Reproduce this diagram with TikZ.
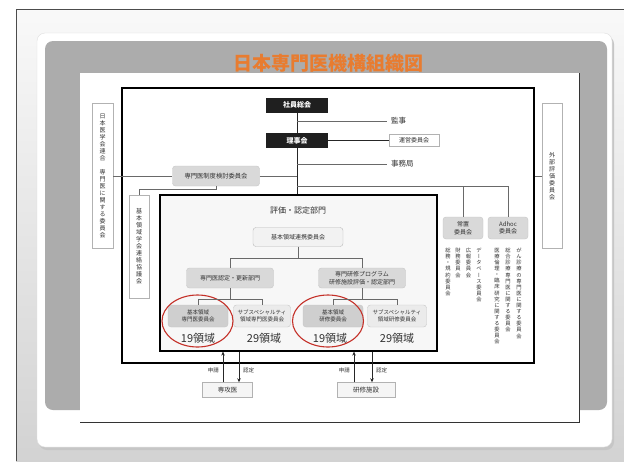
\documentclass[tikz,border=0pt]{standalone}
\usepackage{fontspec}
\setmainfont{Noto Sans CJK JP}
\newfontfamily\jpv[RawFeature=+vert]{Noto Sans CJK JP}
\usetikzlibrary{shapes.geometric,arrows.meta}
\definecolor{ttl}{RGB}{232,124,48}
\definecolor{panel}{RGB}{172,172,172}
\definecolor{ln}{RGB}{105,105,105}
\definecolor{txt}{RGB}{50,50,50}
\definecolor{ovl}{RGB}{196,48,40}
\def\tateA#1{\tateB#1\relax}
\def\tateB#1#2{#1\ifx\relax#2\expandafter\tgob\else\\\expandafter\tateB\fi#2}
\def\tgob#1{}
\tikzset{
  conn/.style={draw=ln, line width=0.6pt},
  darkconn/.style={draw=black!85, line width=1pt},
  blackbox/.style={fill=black!88, text=white, font=\bfseries\fontsize{7}{8}\selectfont, minimum width=62pt, minimum height=15pt, inner sep=0pt},
  gbox/.style={draw=gray!45, fill=gray!30, rounded corners=3pt, align=center, inner sep=0pt, text=txt, font=\fontsize{6}{7.5}\selectfont},
  wbox/.style={draw=gray!60, fill=white, align=center, inner sep=0pt, text=txt},
  vtext/.style={align=center, inner sep=0pt, text=txt, font=\jpv\fontsize{6}{7}\selectfont},
  col/.style={anchor=north, align=center, inner sep=0pt, text=txt, font=\jpv\fontsize{5.3}{6.1}\selectfont},
  lbl/.style={inner sep=0pt, text=txt, font=\fontsize{7.5}{8}\selectfont},
  cnt/.style={inner sep=0pt, text=txt, font=\fontsize{11}{12}\selectfont},
  small/.style={inner sep=0pt, text=txt, font=\fontsize{5.5}{6}\selectfont},
  arr/.style={draw=black!85, line width=1pt, -{Stealth[length=4pt,width=3.5pt]}},
  ring/.style={ellipse, draw=ovl, line width=1.1pt, inner sep=0pt}
}
\begin{document}
\begin{tikzpicture}[x=1pt,y=-1pt]
\useasboundingbox (0,0) rectangle (624,461);
\fill[white] (0,0) rectangle (624,461);
% outer frame
\shade[top color=gray!5, bottom color=gray!35] (16,9) rectangle (624,461);
\draw[black!70, line width=0.8pt] (16,461) -- (16,9) -- (624,9);
% card
\fill[gray!45, rounded corners=8pt] (39,36) rectangle (614,450);
\filldraw[fill=white, draw=gray!25, rounded corners=8pt] (37,33) rectangle (612,447);
\fill[panel, rounded corners=8pt] (45,41) rectangle (607,410);
\fill[white] (80,73) rectangle (579,422);
\draw[black!80, line width=1pt] (579,73) -- (579,422) -- (80,422);
\node[font=\bfseries\fontsize{19}{20}\selectfont, text=ttl] (title) at (328,63) {日本専門医機構組織図};

% frames
\node[draw=black, line width=1.4pt, fill=white, minimum width=412pt, minimum height=275pt, inner sep=0pt] (mainframe) at (328,225.5) {};
\node[draw=black, line width=1.2pt, fill=gray!6, minimum width=277pt, minimum height=156pt, inner sep=0pt] (hyoka) at (298.5,273) {};

% top nodes
\node[blackbox] (shain) at (297,105) {社員総会};
\node[blackbox] (riji) at (297,140.5) {理事会};
\node[lbl, anchor=west, inner sep=4pt] (kanji) at (387,121) {監事};
\node[lbl, anchor=west, inner sep=4pt] (jimu) at (387,164) {事務局};
\node[wbox, minimum width=50pt, minimum height=12pt, font=\fontsize{6}{7}\selectfont] (unei) at (414,140.5) {運営委員会};
\node[gbox, minimum width=87pt, minimum height=20pt, font=\fontsize{6.3}{7.5}\selectfont] (kento) at (216,176) {専門医制度検討委員会};

% side vertical boxes
\node[wbox, vtext, minimum width=21pt, minimum height=145pt] (ren) at (102.5,176) {\tateA{日本医学会連合~専門医に関する委員会}};
\node[wbox, vtext, minimum width=20pt, minimum height=103pt] (kihonkyo) at (139,246.5) {\tateA{基本領域学会連絡協議会}};
\node[wbox, vtext, minimum width=20pt, minimum height=145pt] (gaibu) at (552,176) {\tateA{外部評価委員会}};

% standing / adhoc committees
\node[gbox, minimum width=40pt, minimum height=22pt] (joti) at (463,228) {常置\\委員会};
\node[gbox, minimum width=40pt, minimum height=22pt] (adhoc) at (508,228) {Adhoc\\委員会};
\node[col] (c1) at (448,248) {\tateA{総務・規約委員会}};
\node[col] (c2) at (458,248) {\tateA{財務委員会}};
\node[col] (c3) at (468.5,248) {\tateA{広報委員会}};
\node[col] (c4) at (479,248) {\tateA{データベース委員会}};
\node[col] (c5) at (497,248) {\tateA{医療倫理・臨床研究に関する委員会}};
\node[col] (c6) at (508,248) {\tateA{総合診療専門医に関する委員会}};
\node[col] (c7) at (519,248) {\tateA{がん診療の専門医に関する委員会}};

% inside evaluation division
\node[lbl, font=\fontsize{8}{9}\selectfont] (hyokalbl) at (298,210) {評価・認定部門};
\node[gbox, fill=gray!10, draw=gray!55, minimum width=90pt, minimum height=19pt] (renkei) at (298,237) {基本領域連携委員会};
\node[gbox, minimum width=87pt, minimum height=20pt] (nintei) at (230,278) {専門医認定・更新部門};
\node[gbox, minimum width=87pt, minimum height=20pt, font=\fontsize{6}{7.5}\selectfont] (kenshu) at (362,278) {専門研修プログラム\\研修施設評価・認定部門};
\node[gbox, fill=gray!38, minimum width=60pt, minimum height=22pt, font=\fontsize{5.5}{7}\selectfont] (b1) at (198,316) {基本領域\\専門医委員会};
\node[gbox, fill=gray!16, minimum width=57pt, minimum height=22pt, font=\fontsize{5.5}{7}\selectfont] (s1) at (262,316) {サブスペシャルティ\\領域専門医委員会};
\node[gbox, fill=gray!38, minimum width=60pt, minimum height=22pt, font=\fontsize{5.5}{7}\selectfont] (b2) at (333,316) {基本領域\\研修委員会};
\node[gbox, fill=gray!16, minimum width=59pt, minimum height=22pt, font=\fontsize{5.5}{7}\selectfont] (s2) at (397,316) {サブスペシャルティ\\領域研修委員会};
\node[cnt] (n1) at (198,338) {19領域};
\node[cnt] (n2) at (264,338) {29領域};
\node[cnt] (n3) at (330,338) {19領域};
\node[cnt] (n4) at (397,338) {29領域};
\node[ring, minimum width=71pt, minimum height=52pt] (e1) at (197.5,321) {};
\node[ring, minimum width=71pt, minimum height=52pt] (e2) at (328,321) {};

% bottom boxes
\node[wbox, fill=gray!8, minimum width=50pt, minimum height=15pt, font=\fontsize{6.5}{7}\selectfont] (senkoi) at (227.5,390) {専攻医};
\node[wbox, fill=gray!8, minimum width=58pt, minimum height=15pt, font=\fontsize{6.5}{7}\selectfont] (shisetsu) at (366,390) {研修施設};
\node[small, anchor=east] (a1) at (219,370) {申請};
\node[small, anchor=west] (a2) at (243,370) {認定};
\node[small, anchor=east] (a3) at (350,370) {申請};
\node[small, anchor=west] (a4) at (376,370) {認定};

% coordinates
\coordinate (jct) at (297,186);
\coordinate (rj) at (298,258);
\coordinate (nj) at (230,299);
\coordinate (kj) at (362,299);

% connectors
\draw[darkconn] (shain.south) -- (riji.north);
\draw[darkconn] (riji.south) -- (riji.south |- hyoka.north);
\draw[conn] (shain.south |- kanji.west) -- (kanji.west);
\draw[conn] (shain.south |- jimu.west) -- (jimu.west);
\draw[darkconn] (riji.east) -- (unei.west);
\draw[conn] (ren.east) -- (kento.west);
\draw[conn] (kento.east) -- (kento.east -| riji.south);
\draw[conn] (kento.south) -- ++(0,3) -| (kihonkyo.north);
\draw[conn] (jct) -| (joti.north);
\draw[conn] (jct) -| (adhoc.north);
\draw[conn] (gaibu.west) -- (gaibu.west -| mainframe.east);
\draw[conn] (renkei.south) -- (rj);
\draw[conn] (rj) -| (nintei.north);
\draw[conn] (rj) -| (kenshu.north);
\draw[conn] (nintei.south) -- (nj);
\draw[conn] (nj) -| (b1.north);
\draw[conn] (nj) -| (s1.north);
\draw[conn] (kenshu.south) -- (kj);
\draw[conn] (kj) -| (b2.north);
\draw[conn] (kj) -| (s2.north);
\draw[arr] ([xshift=-4.5pt]senkoi.north) -- ([xshift=-4.5pt]senkoi.north |- hyoka.south);
\draw[arr] ([xshift=11.5pt]senkoi.north |- hyoka.south) -- ([xshift=11.5pt]senkoi.north);
\draw[arr] ([xshift=-12pt]shisetsu.north) -- ([xshift=-12pt]shisetsu.north |- hyoka.south);
\draw[arr] ([xshift=6pt]shisetsu.north |- hyoka.south) -- ([xshift=6pt]shisetsu.north);
\end{tikzpicture}
\end{document}
